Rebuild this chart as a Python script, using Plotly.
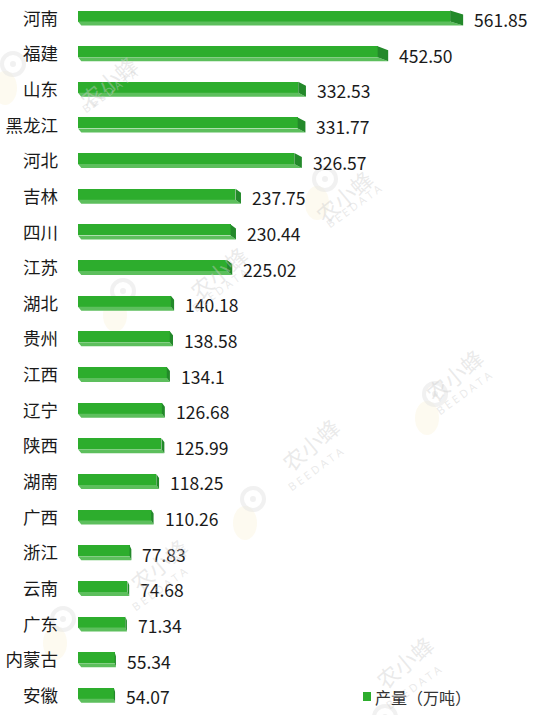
import plotly.graph_objects as go

# Province names (top to bottom) and production figures (万吨)
provinces = ["河南", "福建", "山东", "黑龙江", "河北", "吉林", "四川", "江苏", "湖北", "贵州",
             "江西", "辽宁", "陕西", "湖南", "广西", "浙江", "云南", "广东", "内蒙古", "安徽"]
value_labels = ["561.85", "452.50", "332.53", "331.77", "326.57", "237.75", "230.44", "225.02",
                "140.18", "138.58", "134.1", "126.68", "125.99", "118.25", "110.26", "77.83",
                "74.68", "71.34", "55.34", "54.07"]
values = [float(s) for s in value_labels]
series_name = "产量（万吨）"

W, H = 533, 715
ML = 78
PW = W - ML
X_MAX = 687
ROW_PX = 35.65
Y_TOP = -18.5 / ROW_PX
Y_BOT = Y_TOP + H / ROW_PX

FACE = "#2DAD2D"
BOTTOM = "#5DBF5D"
SIDE = "#23892A"

# bar geometry in row units (front face, lower face, depth skew)
TOP = -8.0 / ROW_PX
MID = 3.0 / ROW_PX
DEPTH_Y = 4.0 / ROW_PX
DEPTH_X = 0.035
LEFT_SLANT = 5.0

idx = list(range(len(provinces)))

fig = go.Figure()

# front face of each bar
fig.add_trace(go.Bar(
    x=values, y=idx, orientation="h",
    width=MID - TOP, offset=TOP,
    marker=dict(color=FACE, line=dict(width=0)),
    name=series_name, showlegend=False, hoverinfo="x+text",
    text=provinces, textposition="none",
))

# lower (lighter) face and right-hand (darker) face of each bar
bx, by, sx, sy = [], [], [], []
for i, v in zip(idx, values):
    far = v * (1 + DEPTH_X)
    bx += [0, v, far, min(LEFT_SLANT, far), None]
    by += [i + MID, i + MID, i + MID + DEPTH_Y, i + MID + DEPTH_Y, None]
    sx += [v, far, far, v, None]
    sy += [i + TOP, i + TOP + DEPTH_Y, i + MID + DEPTH_Y, i + MID, None]

fig.add_trace(go.Scatter(x=bx, y=by, mode="lines", fill="toself", fillcolor=BOTTOM,
                         line=dict(width=0), hoverinfo="skip", showlegend=False))
fig.add_trace(go.Scatter(x=sx, y=sy, mode="lines", fill="toself", fillcolor=SIDE,
                         line=dict(width=0), hoverinfo="skip", showlegend=False))

# value labels after each bar
for i, v, s in zip(idx, values, value_labels):
    fig.add_annotation(x=v * (1 + DEPTH_X), y=i, text=s, showarrow=False,
                       xanchor="left", yanchor="middle", xshift=9, yshift=-1,
                       font=dict(size=17.5, color="#1a1a1a",
                                 family="Noto Sans CJK SC, Noto Sans, sans-serif"))


def paper(px, py):
    return (px - ML) / PW, 1 - py / H


# faint "农小蜂 BEEDATA" watermark marks
marks = [(10, 75), (120, 302), (322, 190), (432, 405), (250, 510), (60, 630), (382, 728)]
for bxp, byp in marks:
    x0, y0 = paper(bxp - 17, byp - 4)
    x1, y1 = paper(bxp + 7, byp + 30)
    fig.add_shape(type="circle", xref="paper", yref="paper", x0=x0, y0=y1, x1=x1, y1=y0,
                  fillcolor="rgba(248,238,200,0.28)", line=dict(width=0), layer="below")
    hx0, hy0 = paper(bxp - 8, byp - 22)
    hx1, hy1 = paper(bxp + 14, byp)
    fig.add_shape(type="circle", xref="paper", yref="paper", x0=hx0, y0=hy1, x1=hx1, y1=hy0,
                  fillcolor="rgba(255,255,255,0)", line=dict(width=4, color="rgba(228,228,228,0.5)"),
                  layer="below")
    dx0, dy0 = paper(bxp, byp - 14)
    dx1, dy1 = paper(bxp + 6, byp - 8)
    fig.add_shape(type="circle", xref="paper", yref="paper", x0=dx0, y0=dy1, x1=dx1, y1=dy0,
                  fillcolor="rgba(228,228,228,0.5)", line=dict(width=0), layer="below")
    tx, ty = paper(bxp + 60, byp - 30)
    fig.add_annotation(xref="paper", yref="paper", x=tx, y=ty, text="农小蜂", showarrow=False,
                       textangle=-40, font=dict(size=22, color="rgba(205,205,205,0.42)",
                                                family="Noto Sans CJK SC"))
    ex, ey = paper(bxp + 66, byp - 13)
    fig.add_annotation(xref="paper", yref="paper", x=ex, y=ey, text="B E E D A T A",
                       showarrow=False, textangle=-36,
                       font=dict(size=11, color="rgba(205,205,205,0.42)", family="Noto Sans"))

# legend: swatch and series name
lx0, ly0 = paper(363, 692)
lx1, ly1 = paper(371, 701)
fig.add_shape(type="rect", xref="paper", yref="paper", x0=lx0, y0=ly1, x1=lx1, y1=ly0,
              fillcolor=FACE, line=dict(width=0))
tx, ty = paper(373, 697)
fig.add_annotation(xref="paper", yref="paper", x=tx, y=ty, text=series_name, showarrow=False,
                   xanchor="left", yanchor="middle",
                   font=dict(size=16, color="#333333", family="Noto Sans CJK SC"))

fig.update_layout(
    width=W, height=H,
    margin=dict(l=ML, r=0, t=0, b=0),
    paper_bgcolor="white", plot_bgcolor="white",
    showlegend=False,
    xaxis=dict(range=[0, X_MAX], visible=False, fixedrange=True),
    yaxis=dict(range=[Y_BOT, Y_TOP], tickmode="array", tickvals=idx, ticktext=provinces,
               showgrid=False, zeroline=False, showline=False, ticks="",
               ticklabelstandoff=19,
               tickfont=dict(size=17.5, color="#1a1a1a", family="Noto Sans CJK SC")),
    bargap=0,
)

fig.write_html("out.html")
